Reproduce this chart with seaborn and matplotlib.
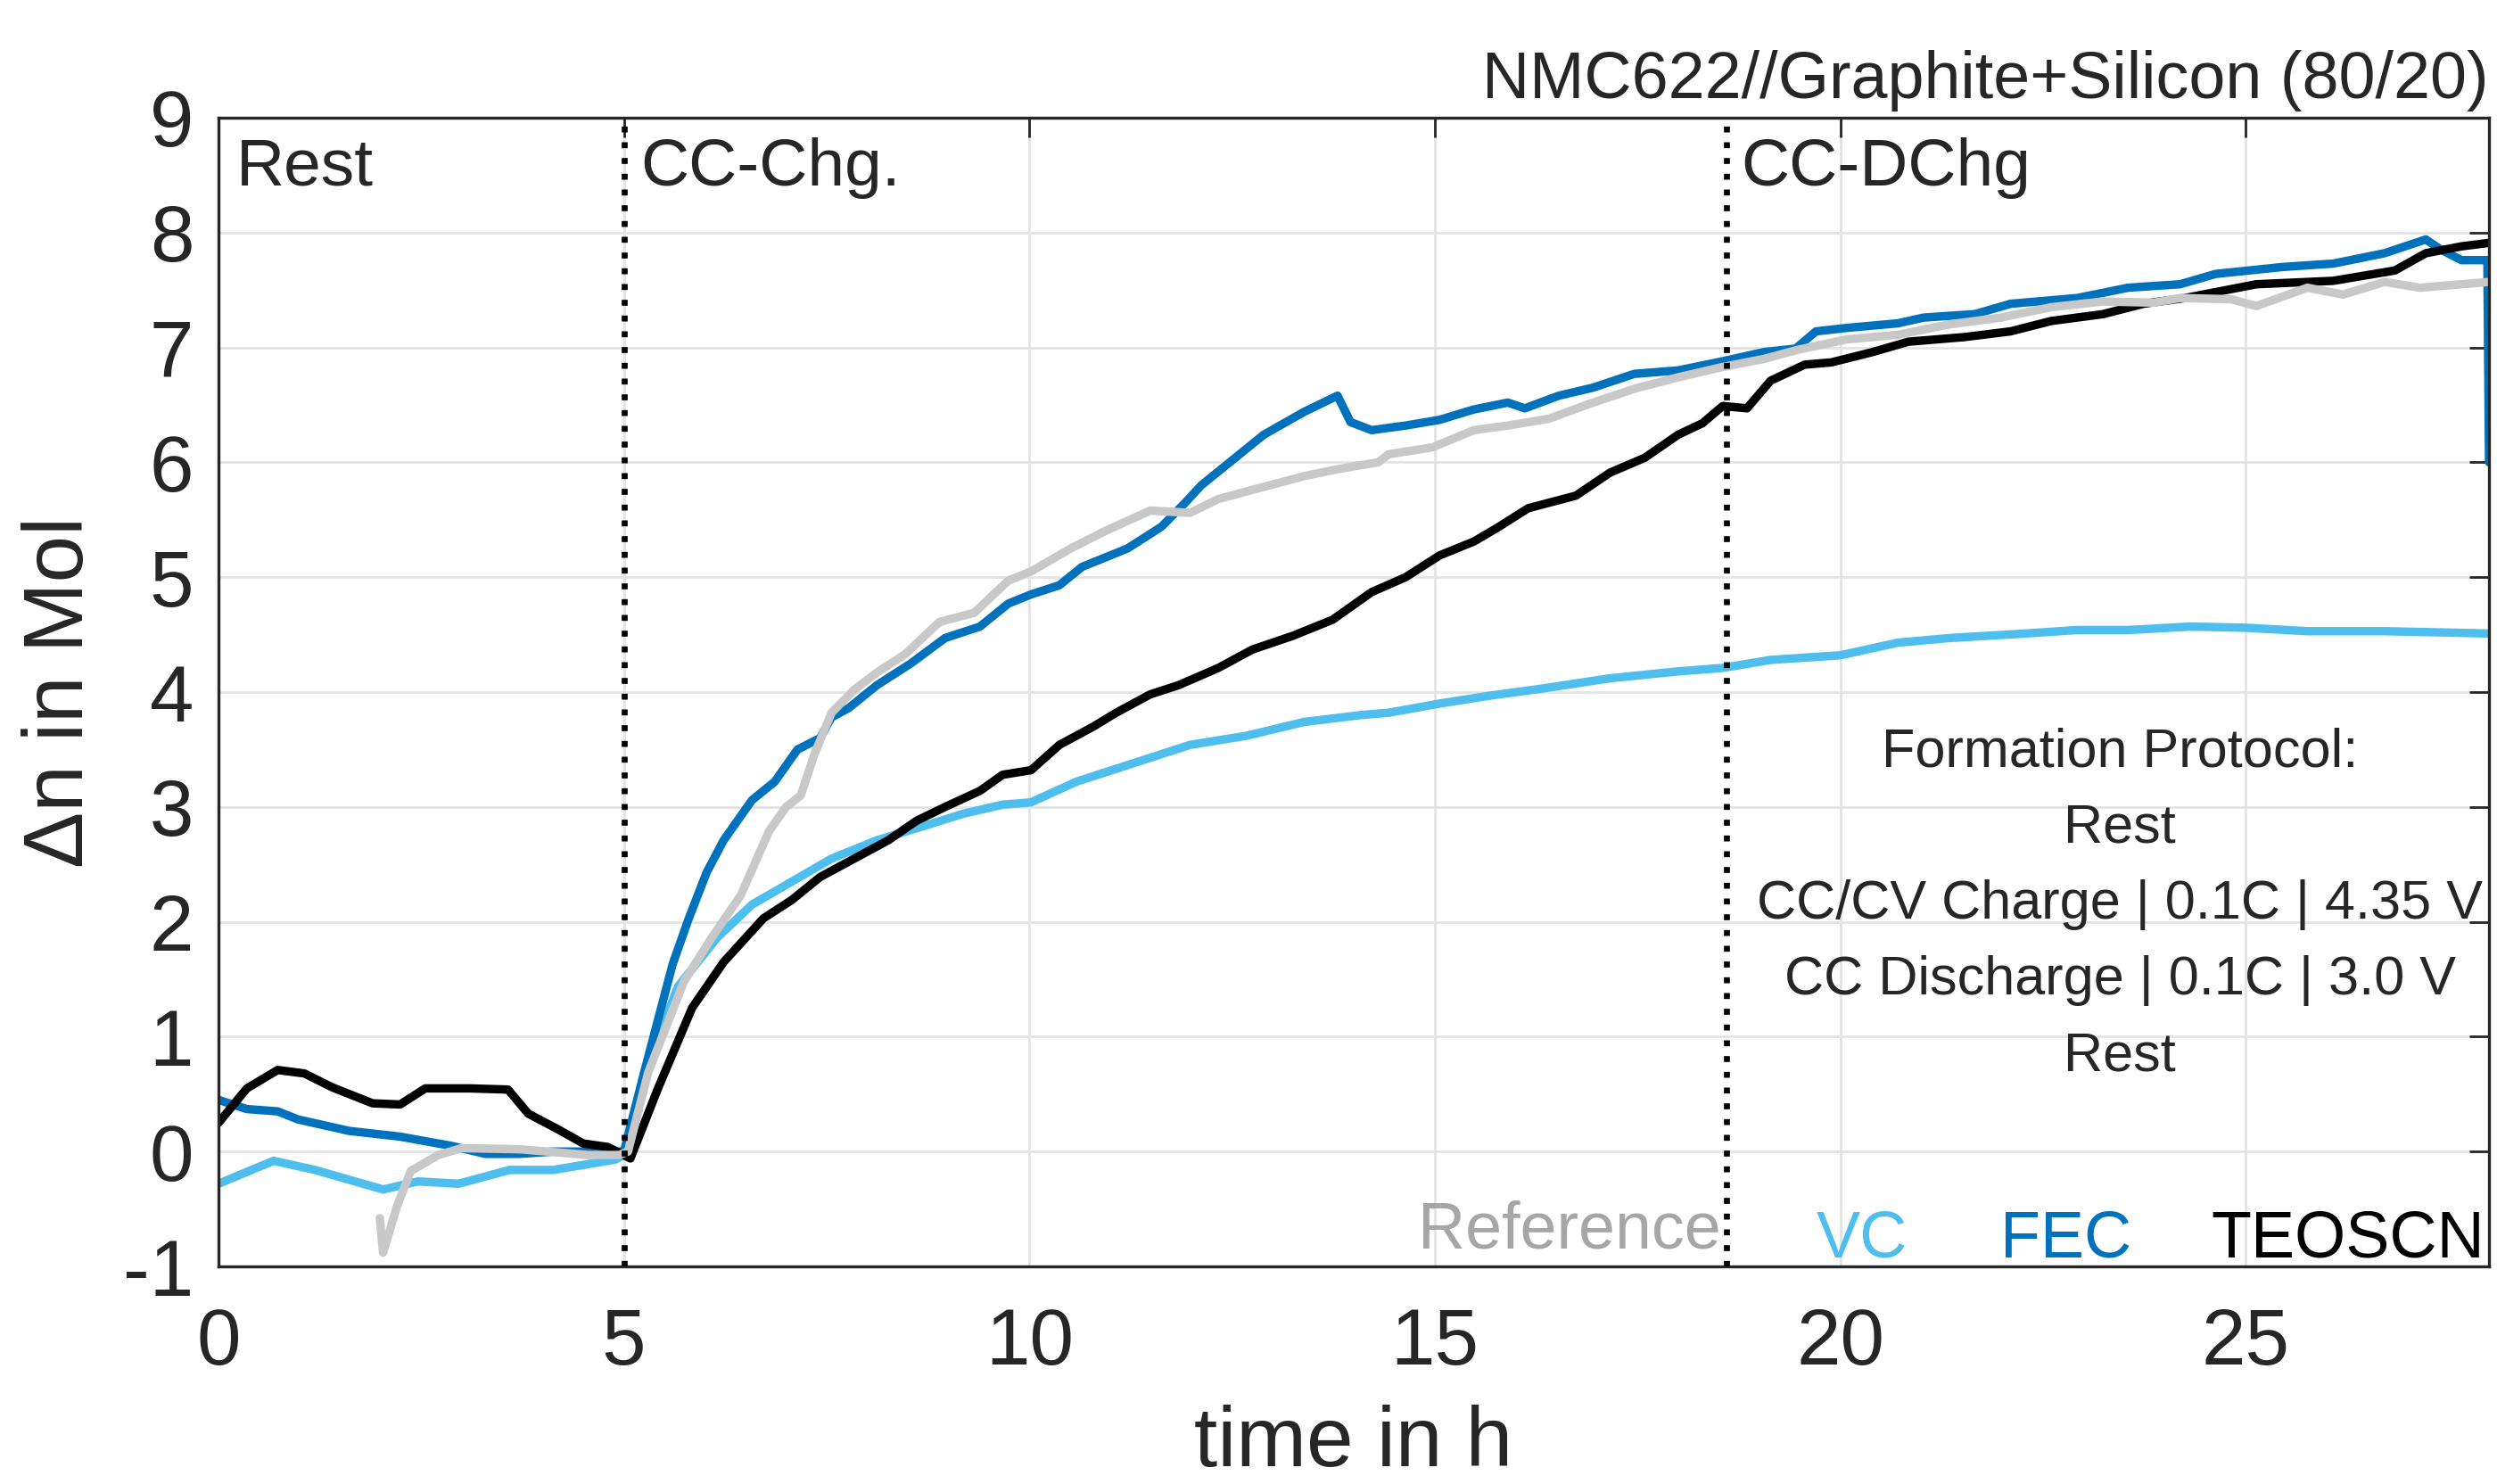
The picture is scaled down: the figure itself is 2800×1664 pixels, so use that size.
import numpy as np
import pandas as pd
import matplotlib
matplotlib.use("Agg")
import matplotlib.pyplot as plt
import seaborn as sns

# --- data --------------------------------------------------------------
ref_t = [1.99, 2.03, 2.2, 2.37, 2.71, 3.0, 3.72, 4.56, 4.94, 5.05, 5.3, 5.74, 6.09, 6.44,
         6.79, 7.0, 7.18, 7.35, 7.56, 7.84, 8.12, 8.47, 8.89, 9.32, 9.74, 10.02, 10.51,
         10.93, 11.49, 11.98, 12.33, 12.75, 13.39, 13.8, 14.3, 14.43, 14.97, 15.48, 15.9,
         16.41, 16.95, 17.46, 18.0, 18.55, 19.06, 19.48, 20.08, 20.71, 21.34, 21.98, 22.6,
         23.24, 23.87, 24.19, 24.82, 25.13, 25.76, 26.2, 26.71, 27.15, 28.0]
ref_n = [-0.58, -0.88, -0.48, -0.17, -0.03, 0.03, 0.02, -0.03, -0.03, 0.0, 0.69, 1.48,
         1.87, 2.23, 2.79, 3.0, 3.1, 3.46, 3.82, 4.02, 4.17, 4.33, 4.61, 4.69, 4.97, 5.05,
         5.25, 5.4, 5.58, 5.56, 5.68, 5.76, 5.88, 5.94, 6.0, 6.07, 6.13, 6.28, 6.32, 6.38,
         6.52, 6.64, 6.74, 6.83, 6.9, 6.98, 7.07, 7.11, 7.2, 7.26, 7.35, 7.4, 7.39, 7.43,
         7.42, 7.36, 7.52, 7.46, 7.57, 7.52, 7.57]

vc_t = [0, 0.68, 1.19, 2.03, 2.46, 2.96, 3.59, 4.13, 4.89, 5.0, 5.12, 5.25, 5.67, 6.16,
        6.58, 7.07, 7.56, 8.12, 8.68, 9.18, 9.67, 10.02, 10.58, 11.28, 11.98, 12.68,
        13.39, 14.09, 14.43, 15.06, 15.69, 16.32, 17.16, 18.0, 18.55, 19.14, 20.0, 20.71,
        21.34, 22.29, 22.92, 23.55, 24.31, 25.0, 25.76, 26.71, 28.0]
vc_n = [-0.28, -0.08, -0.16, -0.33, -0.26, -0.28, -0.16, -0.16, -0.07, -0.03, 0.27, 0.69,
        1.44, 1.87, 2.15, 2.35, 2.55, 2.71, 2.83, 2.94, 3.02, 3.04, 3.22, 3.38, 3.54,
        3.62, 3.74, 3.8, 3.82, 3.9, 3.97, 4.03, 4.12, 4.18, 4.21, 4.28, 4.32, 4.43, 4.47,
        4.51, 4.54, 4.54, 4.57, 4.56, 4.53, 4.53, 4.51]

fec_t = [0, 0.35, 0.73, 0.98, 1.61, 2.24, 2.87, 3.29, 3.71, 4.13, 4.77, 5.0, 5.25, 5.6,
         5.8, 6.02, 6.23, 6.58, 6.86, 7.14, 7.42, 7.56, 7.77, 8.12, 8.54, 8.96, 9.39,
         9.74, 10.02, 10.37, 10.65, 11.21, 11.63, 11.91, 12.12, 12.47, 12.89, 13.39, 13.8,
         13.96, 14.22, 14.64, 15.06, 15.48, 15.9, 16.11, 16.53, 16.95, 17.46, 18.0, 18.55,
         19.06, 19.45, 19.7, 20.08, 20.71, 21.03, 21.66, 22.1, 22.92, 23.55, 24.19, 24.63,
         25.45, 26.08, 26.71, 27.22, 27.41, 27.66, 27.98, 28.0]
fec_n = [0.45, 0.37, 0.35, 0.28, 0.18, 0.13, 0.05, -0.02, -0.02, 0.0, 0.0, 0.0, 0.69,
         1.63, 2.03, 2.43, 2.71, 3.06, 3.22, 3.5, 3.6, 3.78, 3.86, 4.06, 4.25, 4.47, 4.57,
         4.77, 4.85, 4.93, 5.09, 5.25, 5.44, 5.64, 5.8, 6.0, 6.24, 6.44, 6.58, 6.35, 6.28,
         6.32, 6.37, 6.46, 6.52, 6.47, 6.58, 6.65, 6.77, 6.8, 6.88, 6.96, 6.99, 7.14, 7.17,
         7.21, 7.26, 7.29, 7.38, 7.43, 7.52, 7.55, 7.64, 7.70, 7.73, 7.82, 7.94, 7.85,
         7.76, 7.76, 6.0]

teo_t = [0, 0.35, 0.73, 1.06, 1.4, 1.9, 2.24, 2.55, 3.1, 3.57, 3.82, 4.17, 4.5, 4.8, 5.0,
         5.08, 5.42, 5.84, 6.23, 6.72, 7.07, 7.42, 7.84, 8.26, 8.61, 8.96, 9.39, 9.67,
         10.02, 10.37, 10.79, 11.07, 11.49, 11.84, 12.33, 12.75, 13.25, 13.74, 14.22,
         14.64, 15.06, 15.48, 15.77, 16.15, 16.74, 17.16, 17.59, 18.0, 18.3, 18.55, 18.85,
         19.14, 19.56, 19.89, 20.4, 20.84, 21.53, 22.1, 22.6, 23.24, 23.74, 24.25, 25.13,
         26.08, 26.84, 27.22, 27.66, 28.0]
teo_n = [0.25, 0.55, 0.71, 0.68, 0.56, 0.42, 0.41, 0.55, 0.55, 0.54, 0.33, 0.20, 0.07,
         0.04, -0.03, -0.06, 0.55, 1.25, 1.65, 2.03, 2.19, 2.39, 2.55, 2.71, 2.88, 3.0,
         3.14, 3.28, 3.32, 3.54, 3.7, 3.82, 3.98, 4.06, 4.21, 4.37, 4.49, 4.63, 4.87, 5.0,
         5.19, 5.31, 5.43, 5.6, 5.71, 5.91, 6.04, 6.24, 6.34, 6.49, 6.47, 6.71, 6.85, 6.87,
         6.96, 7.05, 7.09, 7.14, 7.23, 7.29, 7.38, 7.43, 7.55, 7.58, 7.67, 7.82, 7.88, 7.91]

labels = ["Reference", "VC", "FEC", "TEOSCN"]
line_colors = {"Reference": "#c8c8c8", "VC": "#4dbeee", "FEC": "#0072bd", "TEOSCN": "#000000"}
text_colors = {"Reference": "#a6a6a6", "VC": "#4dbeee", "FEC": "#0072bd", "TEOSCN": "#000000"}

phase_bounds = [5.0, 18.6]
phase_names = ["Rest", "CC-Chg.", "CC-DChg"]
protocol = ["Formation Protocol:", "Rest", "CC/CV Charge | 0.1C | 4.35 V",
            "CC Discharge | 0.1C | 3.0 V", "Rest"]
title = "NMC622//Graphite+Silicon (80/20)"

# --- plot ------------------------------------------------------------------
sns.set_theme(style="whitegrid")
plt.rcParams["font.family"] = ["Liberation Sans", "DejaVu Sans"]
plt.rcParams["axes.unicode_minus"] = False

fig = plt.figure(figsize=(14, 8.32), dpi=200)
ax = fig.add_axes([0.0875, 0.1466, 0.9093, 0.7741])

series = {"Reference": (ref_t, ref_n), "VC": (vc_t, vc_n),
          "FEC": (fec_t, fec_n), "TEOSCN": (teo_t, teo_n)}
for name in ["VC", "FEC", "TEOSCN", "Reference"]:
    t, n = series[name]
    df = pd.DataFrame({"t": t, "n": n})
    sns.lineplot(data=df, x="t", y="n", color=line_colors[name], lw=3.4,
                 sort=False, estimator=None, ax=ax)

for b in phase_bounds:
    ax.axvline(b, color="black", ls=":", lw=2.4, zorder=5)

ax.set_xlim(0, 28)
ax.set_ylim(-1, 9)
ax.set_xticks(range(0, 26, 5))
ax.set_yticks(range(-1, 10))
ax.grid(True, color="#e3e3e3", lw=1.0)
ax.tick_params(direction="in", top=True, right=True, length=8, width=1,
               labelsize=32, colors="#262626")
ax.tick_params(axis="x", pad=16)
ax.tick_params(axis="y", pad=10)
for s in ax.spines.values():
    s.set_color("#262626")
    s.set_linewidth(1.2)

ax.set_xlabel("time in h", fontsize=34, color="#262626")
ax.set_ylabel("Δn in Mol", fontsize=34, color="#262626")
ax.xaxis.set_label_coords(0.5, -0.12)
ax.yaxis.set_label_coords(-0.052, 0.5)
ax.set_title(title, loc="right", fontsize=26.5, pad=8)

# phase labels
phase_x = [0.22, 5.21, 18.77]
for x, name in zip(phase_x, phase_names):
    ax.text(x, 8.41, name, fontsize=27, va="baseline", ha="left")

# formation protocol block
ax.text(23.45, 2.15, "\n".join(protocol), fontsize=22, ha="center", va="center",
        linespacing=1.64)

# coloured series labels
label_pos = {"Reference": (18.53, -0.84, "right"), "VC": (19.7, -0.92, "left"),
             "FEC": (21.97, -0.92, "left"), "TEOSCN": (27.95, -0.92, "right")}
for name in labels:
    x, y, ha = label_pos[name]
    ax.text(x, y, name, fontsize=26.5, color=text_colors[name], ha=ha, va="baseline")

fig.savefig("out.png", dpi=200)
